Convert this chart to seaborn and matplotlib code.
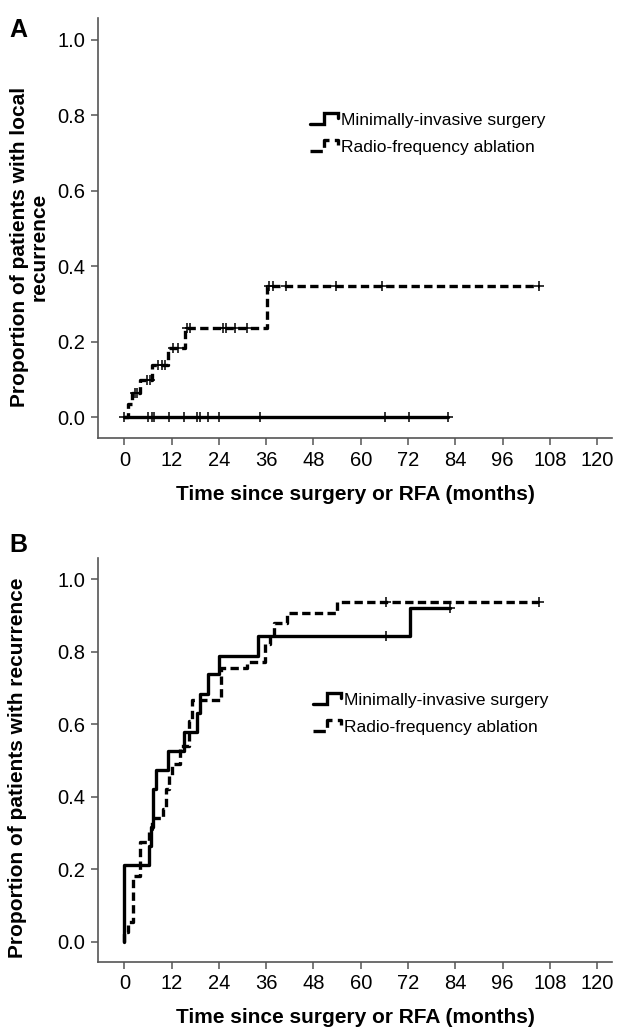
import numpy as np
import pandas as pd
import matplotlib
matplotlib.use("Agg")
import matplotlib.pyplot as plt
import seaborn as sns
from matplotlib.lines import Line2D
from matplotlib.legend_handler import HandlerBase

sns.set_style("ticks")
plt.rcParams['font.family'] = ['Liberation Sans', 'DejaVu Sans']
plt.rcParams['text.color'] = 'black'
plt.rcParams['axes.labelcolor'] = 'black'
plt.rcParams['xtick.labelcolor'] = 'black'
plt.rcParams['ytick.labelcolor'] = 'black'

# ---- data (months, cumulative proportion) ----
# panel A: local recurrence
mis_a_times = []
mis_a_vals = []
mis_a_end = 82.2
mis_a_cens = [0, 6.1, 7.0, 7.4, 11.2, 15.2, 18.4, 19.2, 21.2, 24.1, 34.3, 66.2, 72.3, 82.2]

rfa_a_times = [0.9, 1.9, 4.0, 7.0, 11.1, 15.3, 36.2]
rfa_a_vals = [0.034, 0.065, 0.097, 0.138, 0.183, 0.237, 0.346]
rfa_a_end = 105.3
rfa_a_cens = [2.6, 3.2, 5.8, 6.5, 8.5, 9.5, 10.3, 12.3, 13.5, 15.8, 16.6,
              25.0, 25.8, 28.0, 31.0, 36.8, 37.6, 41.0, 53.7, 65.5, 105.3]

# panel B: any recurrence
mis_b_times = [0, 6.3, 6.7, 7.2, 8.0, 11.0, 15.1, 18.4, 19.2, 21.1, 23.9, 34.0, 72.4]
mis_b_vals = [0.211, 0.263, 0.316, 0.421, 0.474, 0.526, 0.579, 0.632, 0.684,
              0.737, 0.789, 0.842, 0.921]
mis_b_end = 82.7
mis_b_cens = [66.3, 82.7]

rfa_b_times = [0, 0.9, 2.1, 4.0, 6.2, 7.0, 9.9, 10.6, 11.2, 12.0, 14.0, 16.5,
               17.2, 24.5, 31.0, 35.7, 37.0, 37.9, 41.2, 54.0]
rfa_b_vals = [0.028, 0.055, 0.18, 0.276, 0.31, 0.34, 0.365, 0.42, 0.46, 0.49,
              0.54, 0.61, 0.667, 0.754, 0.77, 0.82, 0.845, 0.878, 0.906, 0.938]
rfa_b_end = 105.3
rfa_b_cens = [66.5, 105.3]

groups = ["Minimally-invasive surgery", "Radio-frequency ablation"]
x_ticks = list(range(0, 121, 12))
y_ticks = [0.0, 0.2, 0.4, 0.6, 0.8, 1.0]

DASH = (0, (2.5, 1.3))
LW = 2.4


def steps(times, vals, end):
    xs = np.array([0.0] + list(times) + [end])
    ys = np.array([0.0] + list(vals) + [vals[-1] if vals else 0.0])
    return xs, ys


class StepHandler(HandlerBase):
    def create_artists(self, legend, orig, xd, yd, w, h, fs, trans):
        xs = np.array([0, 0.5, 0.5, 1.0, 1.0]) * w - xd
        ys = np.array([0.1, 0.1, 0.95, 0.95, 0.55]) * h - yd
        ln = Line2D(xs, ys, color="black", lw=orig.get_linewidth(),
                    linestyle=orig.get_linestyle(), solid_joinstyle="miter")
        ln.set_transform(trans)
        return [ln]


def draw_curve(ax, times, vals, end, cens, ls):
    xs, ys = steps(times, vals, end)
    df = pd.DataFrame({"t": xs, "p": ys})
    sns.lineplot(data=df, x="t", y="p", drawstyle="steps-post", sort=False,
                 estimator=None, color="black", lw=LW, linestyle=ls, ax=ax)
    idx = np.searchsorted(xs, cens, side="right") - 1
    cdf = pd.DataFrame({"t": cens, "p": ys[idx]})
    sns.scatterplot(data=cdf, x="t", y="p", marker="+", s=45, color="black",
                    linewidth=1.1, ax=ax, zorder=3)


def style_axis(ax, ylabel, ylab_x, ylab_y):
    ax.set_xlim(-6.7, 123.8)
    ax.set_xticks(x_ticks)
    ax.set_yticks(y_ticks)
    ax.set_yticklabels([f"{v:.1f}" for v in y_ticks])
    ax.tick_params(labelsize=14.5, length=5, width=1.1, color="#555555", pad=4)
    for s in ["left", "bottom"]:
        ax.spines[s].set_color("#555555")
        ax.spines[s].set_linewidth(1.2)
    sns.despine(ax=ax)
    ax.set_xlabel("Time since surgery or RFA (months)", fontsize=15,
                  fontweight="bold", labelpad=11)
    ax.set_ylabel(ylabel, fontsize=15, fontweight="bold", linespacing=1.0)
    ax.yaxis.set_label_coords(ylab_x, ylab_y)


fig = plt.figure(figsize=(6.22, 10.29), dpi=100)
ax_a = fig.add_axes([0.1576, 0.5743, 0.8264, 0.4082])
ax_b = fig.add_axes([0.1576, 0.0654, 0.8264, 0.3923])

draw_curve(ax_a, mis_a_times, mis_a_vals, mis_a_end, mis_a_cens, "-")
draw_curve(ax_a, rfa_a_times, rfa_a_vals, rfa_a_end, rfa_a_cens, DASH)
ax_a.set_ylim(-0.0556, 1.057)
style_axis(ax_a, "Proportion of patients with local\nrecurrence", -0.097, 0.455)

draw_curve(ax_b, mis_b_times, mis_b_vals, mis_b_end, mis_b_cens, "-")
draw_curve(ax_b, rfa_b_times, rfa_b_vals, rfa_b_end, rfa_b_cens, DASH)
ax_b.set_ylim(-0.055, 1.058)
style_axis(ax_b, "Proportion of patients with recurrence", -0.138, 0.48)

handles = [Line2D([], [], color="black", lw=LW, linestyle="-"),
           Line2D([], [], color="black", lw=LW, linestyle=DASH)]
for ax, (lx, ly) in [(ax_a, (310 / 622, 1 - 112 / 1029)),
                     (ax_b, (313 / 622, 1 - 692 / 1029))]:
    ax.legend(handles, groups, loc="upper left", bbox_to_anchor=(lx, ly),
              bbox_transform=fig.transFigure, frameon=False, fontsize=12.5,
              handlelength=1.6, handleheight=0.8, handletextpad=0.2,
              labelspacing=0.65, borderpad=0, borderaxespad=0,
              handler_map={Line2D: StepHandler()})

fig.text(18 / 622, 1 - 30 / 1029, "A", fontsize=18, fontweight="bold",
         ha="center", va="center")
fig.text(18 / 622, 1 - 545 / 1029, "B", fontsize=18, fontweight="bold",
         ha="center", va="center")

fig.savefig("out.png", dpi=100, facecolor="white")
